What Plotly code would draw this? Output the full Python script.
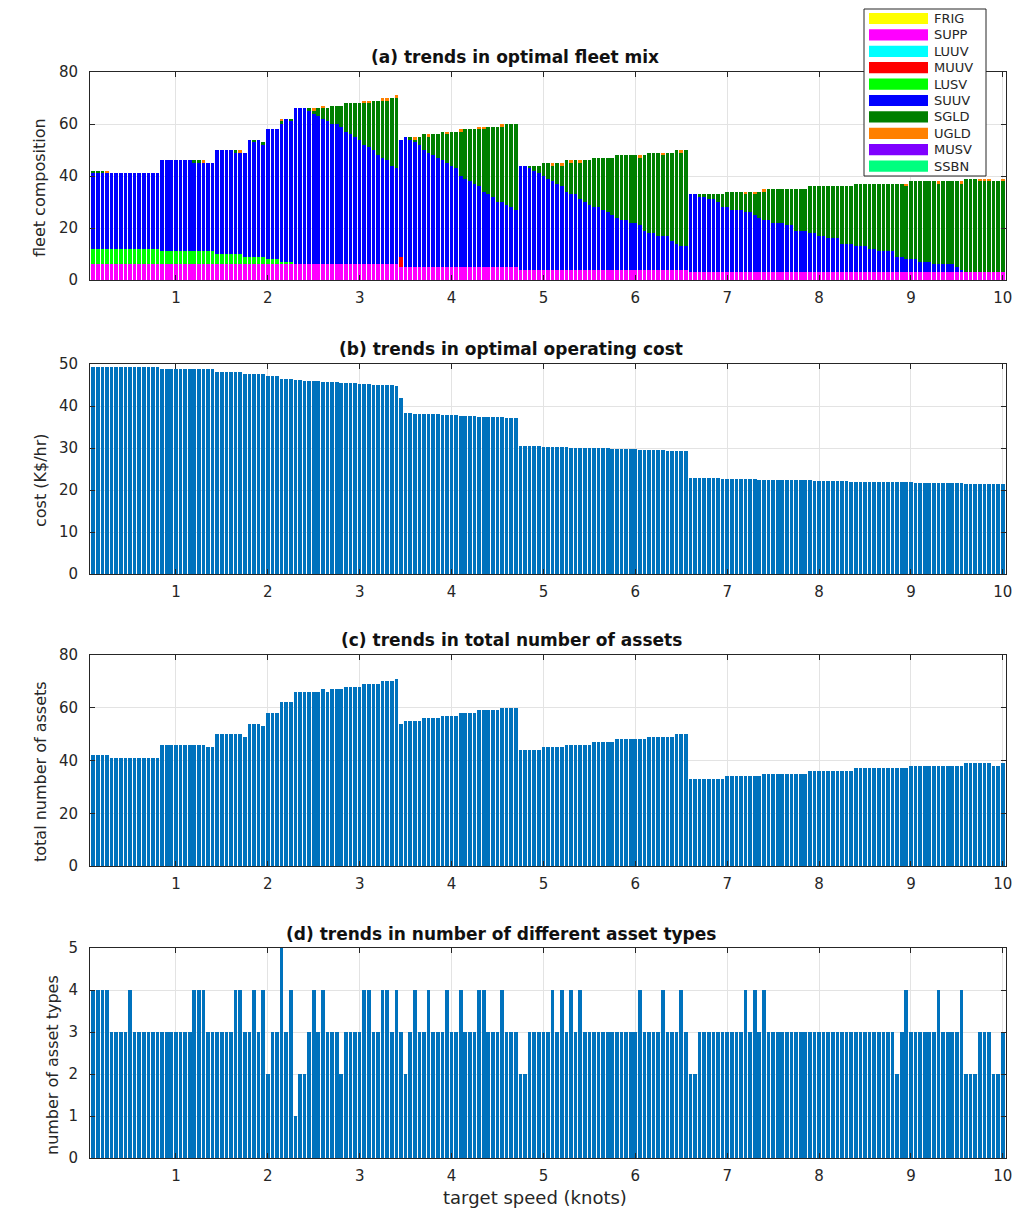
import numpy as np
import plotly.graph_objects as go

# ---------------- data ----------------
N_BARS = 199
SPEED_START = 0.1
SPEED_STEP = 0.05
speed = np.round(SPEED_START + SPEED_STEP * np.arange(N_BARS), 2)

asset_names = ["FRIG", "SUPP", "LUUV", "MUUV", "LUSV", "SUUV", "SGLD", "UGLD", "MUSV", "SSBN"]
asset_colors = ["#FFFF00", "#FF00FF", "#00FFFF", "#FF0000", "#00FF00",
                "#0000FF", "#007F00", "#FF8000", "#7F00FF", "#00FF7F"]

SUPP = [
    6, 6, 6, 6, 6, 6, 6, 6, 6, 6, 6, 6, 6, 6, 6, 6, 6, 6, 6, 6, 6, 6,
    6, 6, 6, 6, 6, 6, 6, 6, 6, 6, 6, 6, 6, 6, 6, 6, 6, 6, 6, 6, 6, 6,
    6, 6, 6, 6, 6, 6, 6, 6, 6, 6, 6, 6, 6, 6, 6, 6, 6, 6, 6, 6, 6, 6, 6,
    5,
    5, 5, 5, 5, 5, 5, 5, 5, 5, 5, 5, 5, 5, 5, 5, 5, 5, 5, 5, 5, 5, 5, 5, 5, 5,
    4, 4, 4, 4, 4, 4, 4, 4, 4, 4, 4, 4, 4, 4, 4, 4, 4, 4, 4, 4, 4, 4, 4, 4, 4,
    4, 4, 4, 4, 4, 4, 4, 4, 4, 4, 4, 4,
    3, 3, 3, 3, 3, 3, 3, 3, 3, 3, 3, 3, 3, 3, 3, 3, 3, 3, 3, 3, 3, 3, 3,
    3, 3, 3, 3, 3, 3, 3, 3, 3, 3, 3, 3, 3, 3, 3, 3, 3, 3, 3, 3, 3, 3, 3,
    3, 3, 3, 3, 3, 3, 3, 3, 3, 3, 3, 3, 3, 3, 3, 3, 3, 3, 3, 3, 3, 3, 3,
]

MUUV = [
    0, 0, 0, 0, 0, 0, 0, 0, 0, 0, 0, 0, 0, 0, 0, 0, 0, 0, 0, 0, 0, 0,
    0, 0, 0, 0, 0, 0, 0, 0, 0, 0, 0, 0, 0, 0, 0, 0, 0, 0, 0, 0, 0, 0,
    0, 0, 0, 0, 0, 0, 0, 0, 0, 0, 0, 0, 0, 0, 0, 0, 0, 0, 0, 0, 0, 0, 0,
    4,
    0, 0, 0, 0, 0, 0, 0, 0, 0, 0, 0, 0, 0, 0, 0, 0, 0, 0, 0, 0, 0, 0, 0, 0, 0,
    0, 0, 0, 0, 0, 0, 0, 0, 0, 0, 0, 0, 0, 0, 0, 0, 0, 0, 0, 0, 0, 0, 0, 0, 0,
    0, 0, 0, 0, 0, 0, 0, 0, 0, 0, 0, 0,
    0, 0, 0, 0, 0, 0, 0, 0, 0, 0, 0, 0, 0, 0, 0, 0, 0, 0, 0, 0, 0, 0, 0,
    0, 0, 0, 0, 0, 0, 0, 0, 0, 0, 0, 0, 0, 0, 0, 0, 0, 0, 0, 0, 0, 0, 0,
    0, 0, 0, 0, 0, 0, 0, 0, 0, 0, 0, 0, 0, 0, 0, 0, 0, 0, 0, 0, 0, 0, 0,
]

LUSV = [
    6, 6, 6, 6, 6, 6, 6, 6, 6, 6, 6, 6, 6, 6, 6,
    5, 5, 5, 5, 5, 5, 5, 5, 5, 5, 5, 5,
    4, 4, 4, 4, 4, 4,
    3, 3, 3, 3, 3,
    2, 2, 2,
    1, 1, 1,
    0, 0, 0, 0, 0, 0, 0, 0, 0, 0, 0, 0, 0, 0, 0, 0, 0, 0, 0, 0, 0, 0, 0,
    0,
    0, 0, 0, 0, 0, 0, 0, 0, 0, 0, 0, 0, 0, 0, 0, 0, 0, 0, 0, 0, 0, 0, 0, 0, 0,
    0, 0, 0, 0, 0, 0, 0, 0, 0, 0, 0, 0, 0, 0, 0, 0, 0, 0, 0, 0, 0, 0, 0, 0, 0,
    0, 0, 0, 0, 0, 0, 0, 0, 0, 0, 0, 0,
    0, 0, 0, 0, 0, 0, 0, 0, 0, 0, 0, 0, 0, 0, 0, 0, 0, 0, 0, 0, 0, 0, 0,
    0, 0, 0, 0, 0, 0, 0, 0, 0, 0, 0, 0, 0, 0, 0, 0, 0, 0, 0, 0, 0, 0, 0,
    0, 0, 0, 0, 0, 0, 0, 0, 0, 0, 0, 0, 0, 0, 0, 0, 0, 0, 0, 0, 0, 0, 0,
]

SUUV = [
    29, 29, 29, 29, 29, 29, 29, 29, 29, 29, 29, 29, 29, 29, 29,
    35, 35, 35, 35, 35, 35, 35, 34, 34, 34, 34, 34,
    40, 40, 40, 40, 39, 39, 40, 45, 44, 45, 43, 50, 50, 50, 53, 55, 54,
    60, 60, 60, 59, 58, 57, 56, 55, 54, 54, 53, 51, 50, 49, 48, 46, 45, 44, 42, 41, 40, 38, 37,
    45,
    50, 49, 48, 47, 45, 44, 43, 42, 41, 40, 39, 38, 35, 34, 33, 32, 31, 29, 28, 27, 25, 25, 24, 23, 22,
    40, 40, 39, 38, 37, 36, 35, 34, 33, 32, 30, 29, 29, 27, 26, 25, 24, 24, 23, 22, 21, 20, 19, 19, 18,
    18, 17, 15, 14, 14, 13, 13, 13, 11, 10, 9, 9,
    30, 30, 29, 29, 28, 28, 27, 25, 25, 24, 24, 24, 23, 23, 22, 21,
    20, 20, 19, 19, 19, 18, 18, 16, 16, 16, 15, 15, 14, 14, 13, 13, 13, 11, 11, 11,
    10, 10, 10, 9, 9, 8, 8, 8, 8, 6, 6, 5, 5, 5, 4, 4, 4, 3, 3, 3, 3, 3, 2, 1,
    0, 0, 0, 0, 0, 0, 0, 0, 0,
]

SGLD = [
    1, 1, 1, 0, 0, 0, 0, 0, 0, 0, 0, 0, 0, 0, 0,
    0, 0, 0, 0, 0, 0, 0, 1, 1, 0, 0, 0,
    0, 0, 0, 0, 1, 0, 0, 0, 1, 0, 1, 0, 0, 0, 1, 0, 1,
    0, 0, 0, 1, 1, 3, 4, 5, 7, 7, 8, 11, 12, 13, 14, 16, 17, 19, 21, 22, 23, 26, 27,
    0,
    0, 1, 1, 3, 6, 6, 8, 9, 11, 11, 13, 14, 17, 19, 20, 21, 22, 24, 26, 27, 29, 29, 31, 32, 33,
    0, 0, 1, 2, 3, 5, 6, 6, 8, 8, 12, 12, 13, 14, 16, 17, 19, 19, 20, 21, 22, 24, 25, 25, 26,
    26, 26, 29, 31, 31, 32, 31, 32, 34, 36, 36, 37,
    0, 0, 1, 1, 2, 2, 3, 5, 6, 7, 7, 7, 7, 8, 8, 10,
    11, 12, 13, 13, 13, 14, 14, 16, 16, 16, 18, 18, 19, 19, 20, 20, 20, 22, 22, 22,
    24, 24, 24, 25, 25, 26, 26, 26, 26, 28, 28, 28, 30, 30, 31, 31, 31, 32, 31, 32, 32, 32, 33, 33,
    36, 36, 36, 35, 35, 35, 35, 35, 35,
]

UGLD = [
    0, 0, 0, 1, 0, 0, 0, 0, 0, 0, 0, 0, 0, 0, 0,
    0, 0, 0, 0, 0, 0, 0, 0, 0, 1, 0, 0,
    0, 0, 0, 0, 0, 1, 0, 0, 0, 0, 0, 0, 0, 0, 1, 0, 0,
    0, 0, 0, 0, 1, 0, 1, 0, 0, 0, 0, 0, 0, 0, 0, 1, 1, 0, 0, 1, 1, 0, 1,
    0,
    0, 0, 1, 0, 0, 1, 0, 0, 0, 1, 0, 0, 1, 0, 0, 0, 1, 1, 0, 0, 0, 1, 0, 0, 0,
    0, 0, 0, 0, 0, 0, 0, 1, 0, 1, 0, 1, 0, 1, 0, 0, 0, 0, 0, 0, 0, 0, 0, 0, 0,
    0, 1, 0, 0, 0, 0, 1, 0, 0, 0, 1, 0,
    0, 0, 0, 0, 0, 0, 0, 0, 0, 0, 0, 0, 1, 0, 1, 0,
    1, 0, 0, 0, 0, 0, 0, 0, 0, 0, 0, 0, 0, 0, 0, 0, 0, 0, 0, 0,
    0, 0, 0, 0, 0, 0, 0, 0, 0, 0, 0, 1, 0, 0, 0, 0, 0, 0, 1, 0, 0, 0, 0, 1,
    0, 0, 0, 1, 1, 1, 0, 0, 1,
]

# FRIG, LUUV, MUSV and SSBN never appear in the mix (all bars read as zero)
FRIG = [0] * N_BARS
LUUV = [0] * N_BARS
MUSV = [0] * N_BARS
SSBN = [0] * N_BARS

COST = [
    49.4, 49.4, 49.4, 49.4, 49.3, 49.3, 49.3, 49.3, 49.3, 49.3, 49.3, 49.3, 49.3, 49.3, 49.3,
    48.8, 48.8, 48.8, 48.8, 48.8, 48.8, 48.8, 48.8, 48.8, 48.8, 48.7, 48.7,
    48.2, 48.2, 48.2, 48.2, 48.2, 48.2,
    47.6, 47.6, 47.6, 47.6, 47.6,
    47.1, 47.1, 47.1,
    46.5, 46.5, 46.5,
    46.2, 46.1, 46.0, 46.0, 45.9, 45.9, 45.8, 45.7, 45.7, 45.6, 45.5, 45.5, 45.4, 45.4, 45.3,
    45.2, 45.2, 45.1, 45.1, 45.0, 44.9, 44.9, 44.8,
    42.0,
    38.3, 38.3, 38.2, 38.2, 38.1, 38.1, 38.0, 38.0, 37.9, 37.9, 37.8, 37.8, 37.7, 37.7, 37.6,
    37.6, 37.5, 37.5, 37.4, 37.4, 37.3, 37.3, 37.2, 37.2, 37.1,
    30.5, 30.5, 30.4, 30.4, 30.4, 30.3, 30.3, 30.3, 30.2, 30.2, 30.2, 30.1, 30.1, 30.1,
    30.0, 30.0, 30.0, 29.9, 29.9, 29.9, 29.8, 29.8, 29.8, 29.7, 29.7, 29.7, 29.6, 29.6,
    29.6, 29.5, 29.5, 29.5, 29.4, 29.4, 29.3, 29.3, 29.2,
    22.9, 22.9, 22.9, 22.8, 22.8, 22.8, 22.8, 22.7, 22.7, 22.7, 22.7, 22.6, 22.6, 22.6,
    22.6, 22.5, 22.5, 22.5, 22.5, 22.4, 22.4, 22.4, 22.4, 22.3, 22.3, 22.3, 22.3, 22.2,
    22.2, 22.2, 22.2, 22.1, 22.1, 22.1, 22.1, 22.0, 22.0, 22.0, 22.0, 21.9, 21.9, 21.9,
    21.9, 21.9, 21.8, 21.8, 21.8, 21.8, 21.8, 21.7, 21.7, 21.7, 21.7, 21.7, 21.6, 21.6,
    21.6, 21.6, 21.6, 21.6, 21.5, 21.5, 21.5, 21.5, 21.5, 21.5, 21.5, 21.5, 21.5,
]

TOTAL = [
    42, 42, 42, 42, 41, 41, 41, 41, 41, 41, 41, 41, 41, 41, 41,
    46, 46, 46, 46, 46, 46, 46, 46, 46, 46, 45, 45,
    50, 50, 50, 50, 50, 50, 49, 54, 54, 54, 53, 58, 58, 58, 62, 62, 62,
    66, 66, 66, 66, 66, 66, 67, 66, 67, 67, 67, 68, 68, 68, 68, 69, 69, 69, 69, 70, 70, 70, 71,
    54,
    55, 55, 55, 55, 56, 56, 56, 56, 57, 57, 57, 57, 58, 58, 58, 58, 59, 59, 59, 59, 59, 60, 60, 60, 60,
    44, 44, 44, 44, 44, 45, 45, 45, 45, 45, 46, 46, 46, 46, 46, 46, 47, 47, 47, 47, 47, 48, 48, 48, 48,
    48, 48, 48, 49, 49, 49, 49, 49, 49, 50, 50, 50,
    33, 33, 33, 33, 33, 33, 33, 33, 34, 34, 34, 34, 34, 34, 34, 34,
    35, 35, 35, 35, 35, 35, 35, 35, 35, 35, 36, 36, 36, 36, 36, 36, 36, 36, 36, 36,
    37, 37, 37, 37, 37, 37, 37, 37, 37, 37, 37, 37, 38, 38, 38, 38, 38, 38, 38, 38, 38, 38, 38, 38,
    39, 39, 39, 39, 39, 39, 38, 38, 39,
]

N_TYPES = [
    4, 4, 4, 4, 3, 3, 3, 3, 4, 3, 3, 3, 3, 3, 3,
    3, 3, 3, 3, 3, 3, 3, 4, 4, 4, 3, 3,
    3, 3, 3, 3, 4, 4, 3, 3, 4, 3, 4, 2, 3, 3, 5, 3, 4,
    1, 2, 2, 3, 4, 3, 4, 3, 3, 3, 2, 3, 3, 3, 3, 4, 4, 3, 3, 4, 4, 3, 4,
    3,
    2, 3, 4, 3, 3, 4, 3, 3, 3, 4, 3, 3, 4, 3, 3, 3, 4, 4, 3, 3, 3, 4, 3, 3, 3,
    2, 2, 3, 3, 3, 3, 3, 4, 3, 4, 3, 4, 3, 4, 3, 3, 3, 3, 3, 3, 3, 3, 3, 3, 3,
    3, 4, 3, 3, 3, 3, 4, 3, 3, 3, 4, 3,
    2, 2, 3, 3, 3, 3, 3, 3, 3, 3, 3, 3, 4, 3, 4, 3,
    4, 3, 3, 3, 3, 3, 3, 3, 3, 3, 3, 3, 3, 3, 3, 3, 3, 3, 3, 3,
    3, 3, 3, 3, 3, 3, 3, 3, 3, 2, 3, 4, 3, 3, 3, 3, 3, 3, 4, 3, 3, 3, 3, 4,
    2, 2, 2, 3, 3, 3, 2, 2, 3,
]

X_TICKS = [1, 2, 3, 4, 5, 6, 7, 8, 9, 10]

for nm, arr in [("SUPP", SUPP), ("MUUV", MUUV), ("LUSV", LUSV), ("SUUV", SUUV),
                ("SGLD", SGLD), ("UGLD", UGLD), ("COST", COST), ("TOTAL", TOTAL),
                ("N_TYPES", N_TYPES)]:
    if len(arr) != N_BARS:
        raise ValueError(f"{nm} has length {len(arr)}")

series = {"FRIG": FRIG, "SUPP": SUPP, "LUUV": LUUV, "MUUV": MUUV, "LUSV": LUSV,
          "SUUV": SUUV, "SGLD": SGLD, "UGLD": UGLD, "MUSV": MUSV, "SSBN": SSBN}

# ---------------- figure ----------------
# the page body has an 8px margin, so the figure is sized to fill the rest of
# the 1025x1210 window and reference pixel positions are offset by it
OFF = 8
W, H = 1025 - OFF, 1210 - OFF
FONT = "DejaVu Sans, Liberation Sans, Arial, sans-serif"
AXC = "#262626"
BAR_BLUE = "#0072BD"

fig = go.Figure()

for name, color in zip(asset_names, asset_colors):
    fig.add_trace(go.Bar(x=speed, y=series[name], name=name, marker_color=color,
                         marker_line_width=0, showlegend=False, xaxis="x", yaxis="y"))

fig.add_trace(go.Bar(x=speed, y=COST, marker_color=BAR_BLUE, marker_line_width=0,
                     showlegend=False, xaxis="x2", yaxis="y2"))
fig.add_trace(go.Bar(x=speed, y=TOTAL, marker_color=BAR_BLUE, marker_line_width=0,
                     showlegend=False, xaxis="x3", yaxis="y3"))
fig.add_trace(go.Bar(x=speed, y=N_TYPES, marker_color=BAR_BLUE, marker_line_width=0,
                     showlegend=False, xaxis="x4", yaxis="y4"))


def py(px):
    return 1 - (px - OFF) / H


def pxx(px):
    return (px - OFF) / W


xdom = [pxx(90), pxx(1006)]
panels = [(72, 280), (364, 574), (655, 866), (948, 1158)]
yranges = [[0, 80], [0, 50], [0, 80], [0, 5]]
ydticks = [20, 10, 20, 1]

axis_common = dict(showline=True, linecolor=AXC, linewidth=1, mirror="ticks",
                   ticks="inside", ticklen=5, tickcolor=AXC, showgrid=True,
                   gridcolor="#e3e3e3", gridwidth=1, zeroline=False,
                   tickfont=dict(family=FONT, size=15, color=AXC))

layout = dict(width=W, height=H,
              margin=dict(l=0, r=0, t=0, b=0, pad=0, autoexpand=False),
              paper_bgcolor="white", plot_bgcolor="white",
              barmode="stack", bargap=0.2, showlegend=False,
              font=dict(family=FONT, color=AXC))

for k, ((top, bot), yr, dt) in enumerate(zip(panels, yranges, ydticks), start=1):
    sfx = "" if k == 1 else str(k)
    layout["xaxis" + sfx] = dict(axis_common, domain=xdom, anchor="y" + sfx,
                                 range=[0.065, 10.035], tickmode="array",
                                 tickvals=X_TICKS, automargin=False,
                                 ticklabelstandoff=4)
    layout["yaxis" + sfx] = dict(axis_common, domain=[py(bot), py(top)],
                                 anchor="x" + sfx, range=yr, tick0=0, dtick=dt,
                                 automargin=False, ticklabelstandoff=8)

fig.update_layout(**layout)

# ---- legend box for panel (a), drawn as in the original (wide colour patches)
LEG_BOX_TOP = 9
LEG_BOX_BOTTOM = 176
LEG_TOP = 18.5
LEG_STEP = 16.4
shapes = [dict(type="rect", xref="paper", yref="paper",
               x0=pxx(864), x1=pxx(986), y0=py(LEG_BOX_BOTTOM), y1=py(LEG_BOX_TOP),
               fillcolor="white", line=dict(color=AXC, width=1), layer="above")]
ann = []
for j, (name, color) in enumerate(zip(asset_names, asset_colors)):
    yc = LEG_TOP + LEG_STEP * j
    shapes.append(dict(type="rect", xref="paper", yref="paper",
                       x0=pxx(869), x1=pxx(928), y0=py(yc + 5.6), y1=py(yc - 5.6),
                       fillcolor=color, line=dict(width=0), layer="above"))
    ann.append(dict(text=name, x=pxx(932), y=py(yc), xref="paper", yref="paper",
                    showarrow=False, xanchor="left", yanchor="middle",
                    font=dict(family=FONT, size=13, color=AXC)))

titles = [("(a) trends in optimal fleet mix", 515, 57),
          ("(b) trends in optimal operating cost", 511, 349),
          ("(c) trends in total number of assets", 511, 640),
          ("(d) trends in number of different asset types", 501, 934)]
for txt, xp, yp in titles:
    ann.append(dict(text="<b>" + txt + "</b>", x=pxx(xp), y=py(yp), xref="paper",
                    yref="paper", showarrow=False, xanchor="center", yanchor="middle",
                    font=dict(family=FONT, size=17, color="#111111")))

ytitles = [("fleet composition", 40, 188), ("cost (K$/hr)", 40, 480),
           ("total number of assets", 40, 772), ("number of asset types", 52, 1065)]
for txt, xp, yp in ytitles:
    ann.append(dict(text=txt, x=pxx(xp), y=py(yp), xref="paper", yref="paper",
                    showarrow=False, textangle=-90, xanchor="center", yanchor="middle",
                    font=dict(family=FONT, size=16, color=AXC)))

ann.append(dict(text="target speed (knots)", x=pxx(535), y=py(1197), xref="paper",
                yref="paper", showarrow=False, xanchor="center", yanchor="middle",
                font=dict(family=FONT, size=18, color=AXC)))

fig.update_layout(annotations=ann, shapes=shapes)

fig.write_html("out.html")
